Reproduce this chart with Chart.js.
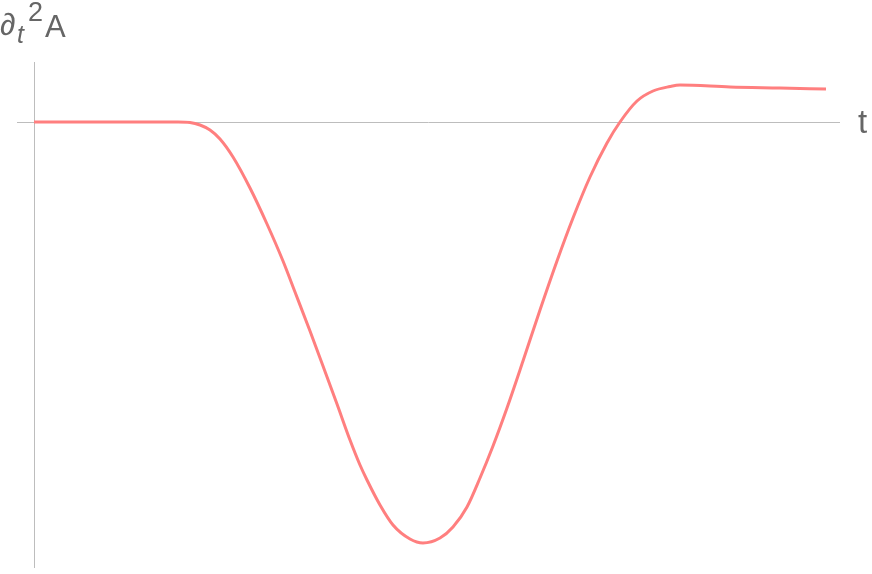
<!DOCTYPE html>
<html>
<head>
<meta charset="utf-8">
<script src="https://cdn.jsdelivr.net/npm/chart.js@4/dist/chart.umd.min.js"></script>
<style>
  html, body { margin: 0; padding: 0; background: #fff; }
  #wrap { position: relative; width: 872px; height: 574px; }
  canvas { position: absolute; left: 0; top: 0; }
  .lbl { position: absolute; font-family: "Liberation Sans", Arial, sans-serif; color: #666; white-space: nowrap; line-height: 1; }
</style>
</head>
<body>
<div id="wrap">
  <canvas id="c" width="872" height="574"></canvas>
  <span class="lbl" style="left:0px; top:9px; font-size:31px; font-style:italic;">∂</span>
  <span class="lbl" style="left:17px; top:22px; font-size:25px; font-style:italic;">t</span>
  <span class="lbl" style="left:28px; top:-1px; font-size:27px;">2</span>
  <span class="lbl" style="left:45px; top:11px; font-size:31px;">A</span>
  <span class="lbl" style="left:858px; top:105px; font-size:33px;">t</span>
</div>
<script>
// Time values (t) and second-derivative values
const tValues = [0, 0.66, 1.16, 1.44, 1.56, 1.66, 1.76, 1.86, 1.99, 2.16, 2.33, 2.49, 2.61, 2.76, 2.89, 3.03, 3.16, 3.26, 3.33, 3.46, 3.59, 3.76, 3.89, 4.06, 4.19, 4.33, 4.46, 4.59, 4.73, 4.89, 5.06, 5.23, 5.39, 5.56, 5.73, 5.86, 6.03, 6.19, 6.36, 6.46, 6.96, 7.46, 7.92];
const accelValues = [0, 0, 0, 0, -0.005, -0.03, -0.08, -0.17, -0.35, -0.66, -1.02, -1.39, -1.70, -2.09, -2.44, -2.82, -3.18, -3.43, -3.58, -3.83, -4.03, -4.17, -4.21, -4.16, -4.05, -3.85, -3.56, -3.24, -2.86, -2.39, -1.88, -1.39, -0.96, -0.55, -0.21, 0, 0.21, 0.31, 0.355, 0.37, 0.35, 0.34, 0.33];
const xRange = [-0.17, 8.06];
const yRange = [-4.46, 0.6];

const points = tValues.map((t, i) => ({ x: t, y: accelValues[i] }));

const axesPlugin = {
  id: 'originAxes',
  beforeDatasetsDraw(chart) {
    const { ctx, chartArea, scales } = chart;
    const x0 = Math.round(scales.x.getPixelForValue(0)) + 0.5;
    const y0 = Math.round(scales.y.getPixelForValue(0)) + 0.5;
    ctx.save();
    ctx.strokeStyle = '#bdbdbd';
    ctx.lineWidth = 1;
    ctx.beginPath();
    ctx.moveTo(x0, chartArea.top);
    ctx.lineTo(x0, chartArea.bottom);
    ctx.moveTo(chartArea.left, y0);
    ctx.lineTo(chartArea.right, y0);
    ctx.stroke();
    ctx.restore();
  }
};

new Chart(document.getElementById('c'), {
  type: 'line',
  data: {
    datasets: [{
      data: points,
      borderColor: '#ff7f7f',
      borderWidth: 3,
      pointRadius: 0,
      fill: false,
      cubicInterpolationMode: 'monotone'
    }]
  },
  options: {
    responsive: false,
    maintainAspectRatio: false,
    animation: false,
    layout: { padding: { left: 17, right: 32, top: 62, bottom: 6 } },
    plugins: { legend: { display: false }, tooltip: { enabled: false } },
    scales: {
      x: { type: 'linear', min: xRange[0], max: xRange[1], display: false },
      y: { type: 'linear', min: yRange[0], max: yRange[1], display: false }
    }
  },
  plugins: [axesPlugin]
});
</script>
</body>
</html>
